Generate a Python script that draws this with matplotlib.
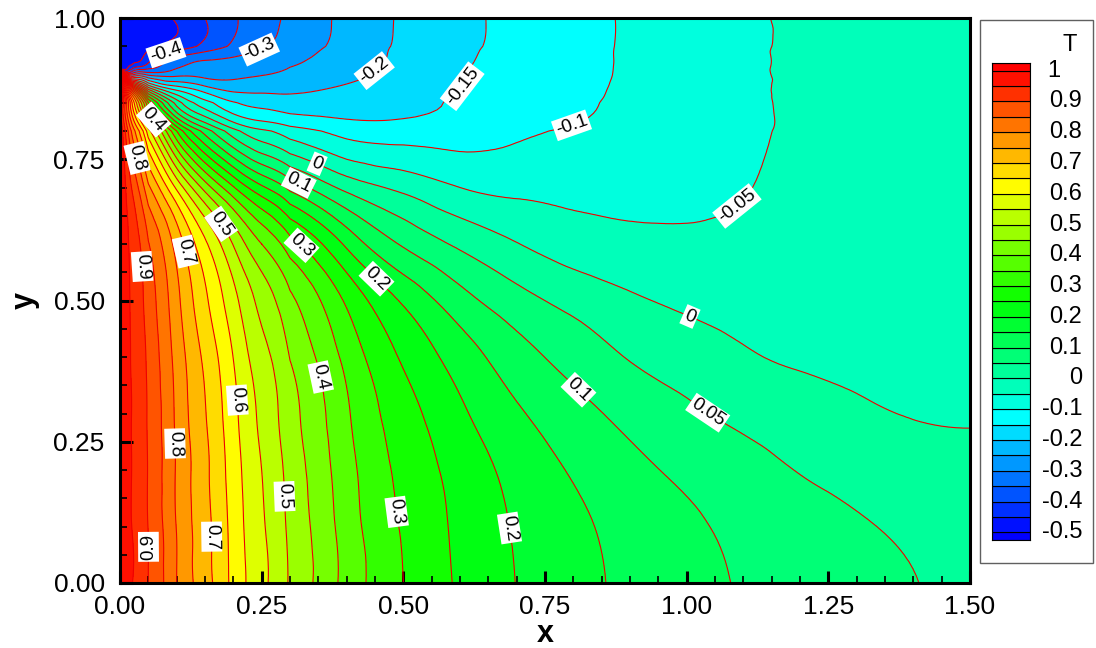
import numpy as np
import matplotlib.pyplot as plt
import matplotlib.tri as mtri
from matplotlib.colors import LinearSegmentedColormap, Normalize
from matplotlib.patches import Rectangle
from matplotlib.ticker import MultipleLocator, FormatStrFormatter
from matplotlib.transforms import blended_transform_factory

plt.rcParams['font.family'] = ['Liberation Sans', 'DejaVu Sans']

# temperature samples on a non-uniform grid
x_cols = [0.0, 0.025, 0.05, 0.1, 0.15, 0.2, 0.25, 0.3, 0.4, 0.5,
          0.6, 0.7, 0.8, 0.9, 1.0, 1.1, 1.2, 1.3, 1.4, 1.5]
y_rows = [0.0, 0.1, 0.2, 0.3, 0.4, 0.5, 0.6, 0.7, 0.8, 0.85, 0.875, 0.9,
          0.925, 0.95, 1.0]
T_rows = [
    [1.0, 0.945, 0.900, 0.800, 0.721, 0.636, 0.563, 0.493, 0.383, 0.300,
     0.243, 0.199, 0.166, 0.139, 0.116, 0.096, 0.081, 0.066, 0.051, 0.045],
    [1.0, 0.944, 0.898, 0.798, 0.717, 0.632, 0.557, 0.487, 0.377, 0.295,
     0.239, 0.195, 0.161, 0.133, 0.109, 0.088, 0.071, 0.055, 0.042, 0.032],
    [1.0, 0.943, 0.896, 0.795, 0.712, 0.625, 0.550, 0.479, 0.369, 0.286,
     0.231, 0.183, 0.145, 0.114, 0.089, 0.068, 0.048, 0.033, 0.021, 0.014],
    [1.0, 0.942, 0.893, 0.790, 0.703, 0.615, 0.538, 0.467, 0.357, 0.271,
     0.209, 0.157, 0.118, 0.085, 0.059, 0.038, 0.023, 0.008, -0.002, -0.004],
    [1.0, 0.939, 0.887, 0.782, 0.689, 0.599, 0.519, 0.448, 0.335, 0.243,
     0.177, 0.121, 0.081, 0.047, 0.026, 0.006, -0.007, -0.013, -0.016, -0.017],
    [1.0, 0.934, 0.875, 0.765, 0.660, 0.567, 0.482, 0.410, 0.292, 0.193,
     0.120, 0.069, 0.034, 0.008, -0.010, -0.020, -0.026, -0.029, -0.031, -0.031],
    [1.0, 0.925, 0.853, 0.731, 0.610, 0.497, 0.400, 0.320, 0.190, 0.094,
     0.041, 0.002, -0.025, -0.038, -0.043, -0.042, -0.040, -0.038, -0.036, -0.035],
    [1.0, 0.880, 0.760, 0.590, 0.430, 0.305, 0.210, 0.135, 0.035, -0.013,
     -0.050, -0.062, -0.064, -0.062, -0.057, -0.051, -0.046, -0.043, -0.041, -0.040],
    [1.0, 0.760, 0.570, 0.300, 0.130, 0.020, -0.040, -0.075, -0.116, -0.123,
     -0.121, -0.108, -0.095, -0.081, -0.068, -0.055, -0.047, -0.044, -0.042, -0.041],
    [1.0, 0.600, 0.300, 0.030, -0.080, -0.145, -0.165, -0.176, -0.172, -0.162,
     -0.145, -0.128, -0.108, -0.092, -0.075, -0.056, -0.047, -0.044, -0.042, -0.041],
    [1.0, 0.300, 0.030, -0.120, -0.180, -0.215, -0.215, -0.212, -0.192, -0.171,
     -0.150, -0.130, -0.110, -0.094, -0.076, -0.056, -0.047, -0.044, -0.042, -0.041],
    [0.25, -0.250, -0.264, -0.265, -0.265, -0.263, -0.252, -0.240, -0.212, -0.182,
     -0.153, -0.132, -0.112, -0.095, -0.076, -0.056, -0.047, -0.044, -0.042, -0.041],
    [-0.5, -0.460, -0.410, -0.330, -0.300, -0.290, -0.278, -0.260, -0.222, -0.190,
     -0.157, -0.135, -0.114, -0.095, -0.076, -0.056, -0.047, -0.044, -0.042, -0.041],
    [-0.5, -0.480, -0.465, -0.430, -0.385, -0.340, -0.305, -0.278, -0.232, -0.192,
     -0.160, -0.137, -0.115, -0.095, -0.076, -0.056, -0.047, -0.044, -0.042, -0.041],
    [-0.5, -0.490, -0.475, -0.445, -0.400, -0.357, -0.320, -0.288, -0.236, -0.194,
     -0.162, -0.137, -0.115, -0.095, -0.076, -0.056, -0.047, -0.044, -0.042, -0.041],
]

# samples close to the jump of the wall temperature at (0, 0.9)
jump_y = 0.9
ring_r = 0.015
ring_deg = [15, 30, 45, 60, 75, 90, 110, 135, 160]
ring_T = [0.75, 0.53, 0.30, 0.07, -0.11, -0.25, -0.39, -0.46, -0.49]
wall_y = [0.89, 0.91]
wall_T = [1.0, -0.5]

# labelled contour lines
label_spots = [
    (-0.4, [(0.082, 0.935)]),
    (-0.3, [(0.247, 0.94)]),
    (-0.2, [(0.45, 0.905)]),
    (-0.15, [(0.603, 0.88)]),
    (-0.1, [(0.794, 0.819)]),
    (-0.05, [(1.085, 0.672)]),
    (0.0, [(0.347, 0.74), (1.003, 0.465)]),
    (0.05, [(1.032, 0.294)]),
    (0.1, [(0.315, 0.707), (0.809, 0.342)]),
    (0.2, [(0.453, 0.539), (0.685, 0.097)]),
    (0.3, [(0.315, 0.592), (0.489, 0.126)]),
    (0.4, [(0.059, 0.82), (0.356, 0.365)]),
    (0.5, [(0.176, 0.634), (0.282, 0.153)]),
    (0.6, [(0.212, 0.324)]),
    (0.7, [(0.112, 0.586), (0.159, 0.082)]),
    (0.8, [(0.029, 0.752), (0.1, 0.247)]),
    (0.9, [(0.035, 0.56), (0.049, 0.064)]),
]
# labels that read upwards along their line
upward_labels = [(0.049, 0.064)]

levels = np.round(np.arange(-0.5, 1.0001, 0.05), 2)
line_levels = levels[1:-1]
legend_ticks = np.round(np.arange(-0.5, 1.0001, 0.1), 1)

cmap = LinearSegmentedColormap.from_list(
    'small_rainbow', ['#0000ff', '#00ffff', '#00ff00', '#ffff00', '#ff0000'])
norm = Normalize(-0.5, 1.0)


def fmt(v):
    return '0' if abs(v) < 1e-9 else f'{v:g}'


W, H = 1096, 648
fig = plt.figure(figsize=(W / 100, H / 100), dpi=100)
ax = fig.add_axes([120 / W, 1 - 583 / H, 850 / W, 565 / H])

# smooth the samples in grid-index space (near-square cells), then map back to x, y
ix = np.arange(len(x_cols))
iy = np.arange(len(y_rows))
I, J = np.meshgrid(ix, iy)
ang = np.radians(ring_deg)
ring_x = ring_r * np.sin(ang)
ring_y = jump_y - ring_r * np.cos(ang)
pi = np.concatenate([I.ravel(), np.interp(ring_x, x_cols, ix),
                     np.interp(np.zeros(len(wall_y)), x_cols, ix)])
pj = np.concatenate([J.ravel(), np.interp(ring_y, y_rows, iy),
                     np.interp(wall_y, y_rows, iy)])
pT = np.concatenate([np.array(T_rows).ravel(), ring_T, wall_T])

tri_i = mtri.Triangulation(pi, pj)
interp = mtri.CubicTriInterpolator(tri_i, pT, kind='min_E')
tri_r, T_f = mtri.UniformTriRefiner(tri_i).refine_field(
    pT, triinterpolator=interp, subdiv=3)
tri_f = mtri.Triangulation(np.interp(tri_r.x, ix, x_cols),
                           np.interp(tri_r.y, iy, y_rows), tri_r.triangles)

ax.tricontourf(tri_f, T_f, levels=levels, cmap=cmap, norm=norm, extend='both')
ax.tricontour(tri_f, T_f, levels=line_levels, colors='#ee0000',
              linewidths=0.8, linestyles='solid')

# one invisible contour set per labelled level, so each label sticks to its own line
for val, spots in label_spots:
    lv = line_levels[np.argmin(np.abs(line_levels - val))]
    cs_l = ax.tricontour(tri_f, T_f, levels=[lv], colors='#ee0000', linewidths=0)
    texts = ax.clabel(cs_l, manual=spots, inline=False, fmt=fmt,
                      fontsize=13.5, colors='black')
    for t, spot in zip(texts, spots):
        rot = (t.get_rotation() + 180) % 360 - 180
        if rot > 60:
            rot -= 180
        elif rot <= -120:
            rot += 180
        if spot in upward_labels:
            rot += 180
        t.set_rotation(rot)
        t.set_bbox(dict(boxstyle='square,pad=0.1', fc='white', ec='none'))
        t.set_zorder(5)

ax.set_xlim(0, 1.5)
ax.set_ylim(0, 1)
ax.xaxis.set_major_locator(MultipleLocator(0.25))
ax.yaxis.set_major_locator(MultipleLocator(0.25))
ax.xaxis.set_minor_locator(MultipleLocator(0.05))
ax.yaxis.set_minor_locator(MultipleLocator(0.05))
ax.xaxis.set_major_formatter(FormatStrFormatter('%.2f'))
ax.yaxis.set_major_formatter(FormatStrFormatter('%.2f'))
ax.tick_params(which='major', direction='in', length=9, width=2.2, labelsize=19)
ax.tick_params(which='minor', direction='in', length=5, width=1.2)
ax.tick_params(axis='x', pad=9)
ax.tick_params(axis='y', pad=11)
for sp in ax.spines.values():
    sp.set_linewidth(2.2)
ax.set_xlabel('x', fontsize=22, fontweight='bold', labelpad=0)
ax.set_ylabel('y', fontsize=22, fontweight='bold', labelpad=10)

# legend box with the flood colours
fig.add_artist(Rectangle((980 / W, 1 - 563 / H), 113 / W, 543 / H,
                         transform=fig.transFigure, fill=False,
                         ec='#606060', lw=1))
lax = fig.add_axes([992 / W, 1 - 540 / H, 38 / W, 477 / H])
edges = np.concatenate([[-0.525], levels, [1.025]])
mids = 0.5 * (edges[:-1] + edges[1:])
lax.bar(0.5, np.diff(edges), bottom=edges[:-1], width=1.0,
        color=cmap(norm(mids)), edgecolor='black', linewidth=0.8)
lax.set_xlim(0, 1)
lax.set_ylim(-0.525, 1.025)
lax.set_xticks([])
lax.set_yticks([])
for sp in lax.spines.values():
    sp.set_linewidth(0.8)
tr = blended_transform_factory(lax.transAxes, lax.transData)
for v in legend_ticks:
    if v == 1:
        lax.text(1.45, v, '1', transform=tr, ha='left', va='center', fontsize=17)
    else:
        lax.text(2.37, v, fmt(v), transform=tr, ha='right', va='center', fontsize=17)
fig.text(1070 / W, 1 - 45 / H, 'T', ha='center', va='center', fontsize=17)

fig.savefig('out.png', dpi=100)
